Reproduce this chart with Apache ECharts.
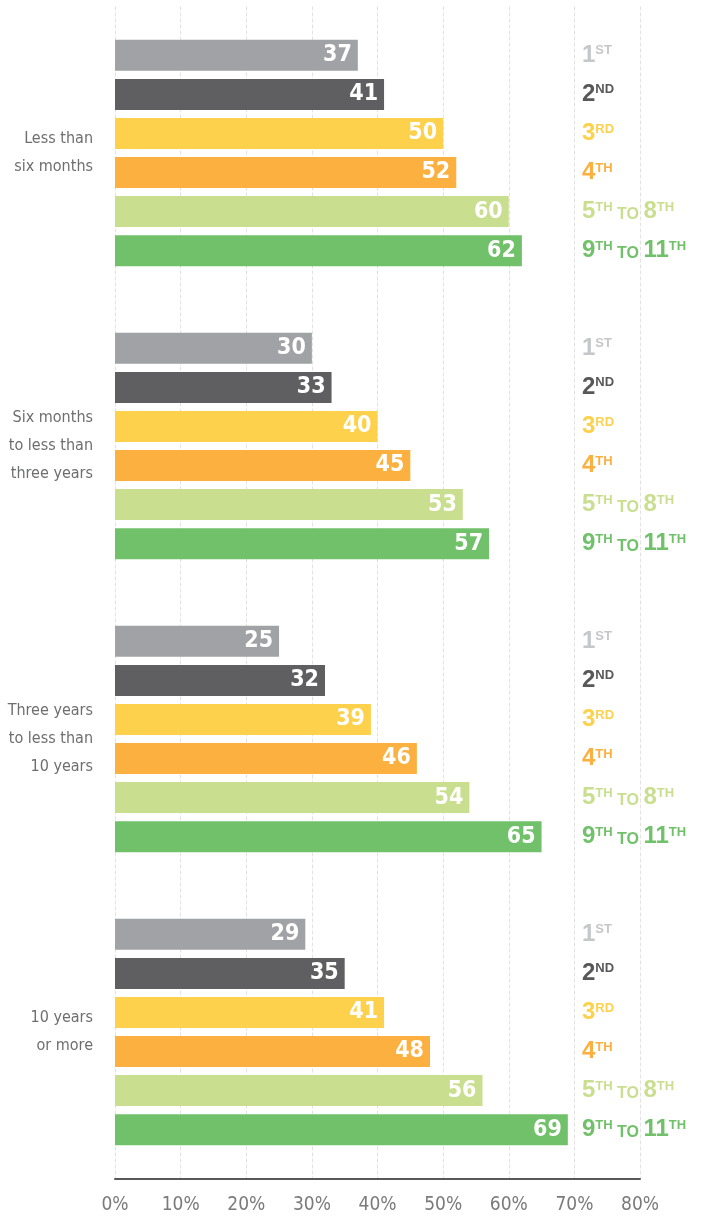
<!DOCTYPE html>
<html><head><meta charset="utf-8">
<style>html,body{margin:0;padding:0;background:#fff}#c{width:710px;height:1219px}</style>
<script src="https://cdn.jsdelivr.net/npm/echarts@6/dist/echarts.min.js"></script>
</head><body><div id="c"></div>
<script>
const categories = ['Less than\nsix months', 'Six months\nto less than\nthree years', 'Three years\nto less than\n10 years', '10 years\nor more'];
const grades = ['1st', '2nd', '3rd', '4th', '5th to 8th', '9th to 11th'];
const gradeLabels = ['{n|1}{s|ST}', '{n|2}{s|ND}', '{n|3}{s|RD}', '{n|4}{s|TH}', '{n|5}{s|TH}{t| TO }{n|8}{s|TH}', '{n|9}{s|TH}{t| TO }{n|11}{s|TH}'];
const values = [
  [37, 30, 25, 29],
  [41, 33, 32, 35],
  [50, 40, 39, 41],
  [52, 45, 46, 48],
  [60, 53, 54, 56],
  [62, 57, 65, 69]
];
const xTicks = [0, 10, 20, 30, 40, 50, 60, 70, 80];
const labelAnchor = 71;
const colors = ['#a1a2a5', '#5f5f61', '#fed14c', '#fbb040', '#c9df8f', '#70c169'];
const labelColors = ['#c6c7c9', '#58585a', '#fed14c', '#fbb040', '#c9df8f', '#70c169'];

const chart = echarts.init(document.getElementById('c'), null, {renderer: 'canvas'});
const condensed = '"Liberation Sans Narrow", "DejaVu Sans Condensed", "Roboto", sans-serif';
const boldFont = '"Liberation Sans", Arial, sans-serif';
const series = [];
grades.forEach((g, i) => {
  series.push({
    name: g, type: 'bar', xAxisIndex: 0, yAxisIndex: 0,
    data: values[i], barWidth: 31, barGap: '26%',
    itemStyle: {color: colors[i]},
    label: {show: true, position: 'insideRight', distance: 6, color: '#fff',
      fontFamily: condensed, fontWeight: 'bold', fontSize: 23},
    silent: true
  });
  series.push({
    name: g + ' label', type: 'bar', xAxisIndex: 1, yAxisIndex: 1,
    data: categories.map(() => labelAnchor), barWidth: 31, barGap: '26%',
    itemStyle: {color: 'rgba(0,0,0,0)'},
    label: {show: true, position: 'right', distance: 1,
      formatter: gradeLabels[i],
      rich: {
        n: {fontFamily: boldFont, fontWeight: 'bold', fontSize: 24, color: labelColors[i], lineHeight: 24, verticalAlign: 'bottom'},
        s: {fontFamily: boldFont, fontWeight: 'bold', fontSize: 13, color: labelColors[i], lineHeight: 13, verticalAlign: 'top', padding: [1, 0, 0, 0]},
        t: {fontFamily: boldFont, fontWeight: 'bold', fontSize: 16, color: labelColors[i], lineHeight: 16, verticalAlign: 'bottom', padding: [0, 0, 1, 0]}
      }
    },
    silent: true
  });
});

chart.setOption({
  animation: false,
  grid: {left: 115, right: 70, top: 6.5, bottom: 40.5, containLabel: false, outerBoundsMode: 'none'},
  xAxis: [{
    type: 'value', min: 0, max: 80, interval: 10,
    axisLine: {show: true, lineStyle: {color: '#58585a', width: 2}},
    axisTick: {show: false},
    splitLine: {show: true, lineStyle: {color: '#e2e2e2', type: [4, 2], width: 1}},
    axisLabel: {formatter: v => xTicks.includes(v) ? v + '%' : '', color: '#7a7a7c', fontFamily: condensed, fontSize: 19, margin: 17}
  }, {
    type: 'value', min: 0, max: 80, show: false
  }],
  yAxis: [{
    type: 'category', data: categories, inverse: true,
    axisLine: {show: false}, axisTick: {show: false},
    axisLabel: {color: '#6d6e70', fontFamily: condensed, fontSize: 16, lineHeight: 28, margin: 22, align: 'right'}
  }, {
    type: 'category', data: categories, inverse: true, show: false
  }],
  series: series
});
</script></body></html>
